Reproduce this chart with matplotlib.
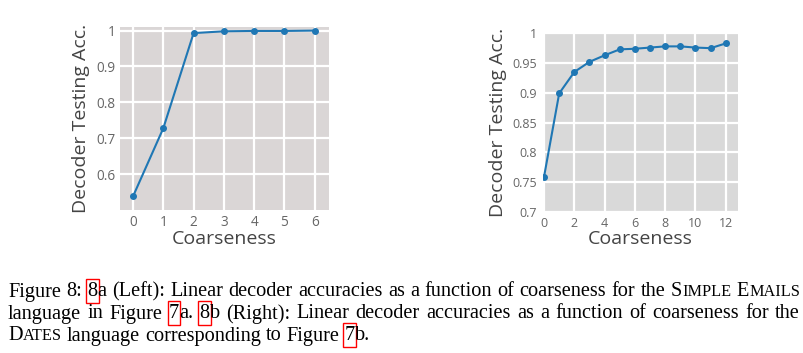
import matplotlib
matplotlib.use("Agg")
import matplotlib.pyplot as plt
from matplotlib.patches import Rectangle
import re

# ---- data ----
left_x = [0, 1, 2, 3, 4, 5, 6]
left_acc = [0.538, 0.728, 0.993, 0.998, 0.999, 0.999, 1.0]
left_yticks = [0.6, 0.7, 0.8, 0.9, 1.0]

right_x = [0, 1, 2, 3, 4, 5, 6, 7, 8, 9, 10, 11, 12]
right_acc = [0.759, 0.899, 0.935, 0.952, 0.963, 0.973, 0.974, 0.976, 0.978, 0.978, 0.976, 0.975, 0.983]
right_xticks = [0, 2, 4, 6, 8, 10, 12]
right_yticks = [0.7, 0.75, 0.8, 0.85, 0.9, 0.95, 1.0]

caption_lines = [
    "Figure 8: [8]a (Left): Linear decoder accuracies as a function of coarseness for the S{IMPLE} E{MAILS}",
    "language in Figure [7]a. [8]b (Right): Linear decoder accuracies as a function of coarseness for the",
    "D{ATES} language corresponding to Figure [7]b.",
]

W, H = 804, 353
LINE = "#1f77b4"
fig = plt.figure(figsize=(W / 100, H / 100), dpi=100)


def style_axes(ax, bg, xlim, ylim, xticks, yticks, tick_size, tick_pad):
    ax.set_facecolor(bg)
    for s in ax.spines.values():
        s.set_visible(False)
    ax.set_xlim(*xlim)
    ax.set_ylim(*ylim)
    ax.set_xticks(xticks)
    ax.set_yticks(yticks)
    ax.set_xticklabels([f"{v:g}" for v in xticks])
    ax.set_yticklabels([f"{v:g}" for v in yticks])
    ax.grid(True, color="white", linewidth=1.6)
    ax.set_axisbelow(True)
    ax.tick_params(length=0, labelsize=tick_size, labelcolor="#666666", pad=tick_pad)
    for lab in ax.get_xticklabels() + ax.get_yticklabels():
        lab.set_family("Open Sans")
    ax.set_xlabel("Coarseness", fontsize=14, color="#444444", family="Open Sans", labelpad=0)
    ax.set_ylabel("Decoder Testing Acc.", fontsize=14, color="#444444", family="Open Sans", labelpad=4)


ax1 = fig.add_axes([120 / W, 1 - 210 / H, 209 / W, 183 / H])
ax1.plot(left_x, left_acc, color=LINE, linewidth=1.5, marker="o", markersize=4)
style_axes(ax1, "#dad6d6", (-0.43, 6.47), (0.5, 1.01), left_x, left_yticks, 9.8, 3.5)

ax2 = fig.add_axes([542.7 / W, 1 - 211.7 / H, 195.6 / W, 178.4 / H])
ax2.plot(right_x, right_acc, color=LINE, linewidth=1.5, marker="o", markersize=4)
style_axes(ax2, "#d9d9d9", (-0.09, 12.83), (0.7, 1.0), right_xticks, right_yticks, 9, 4)


# ---- caption (Times-like, justified, small caps and boxed refs) ----
renderer = fig.canvas.get_renderer()
CAP = 14.6
SERIF = "Liberation Serif"


def parse_word(word):
    frags = []
    for m in re.finditer(r"\[([^\]]+)\]|\{([^}]+)\}|([^\[\{]+)", word):
        if m.group(1):
            frags.append((m.group(1), CAP, True))
        elif m.group(2):
            frags.append((m.group(2), CAP * 0.8, False))
        else:
            frags.append((m.group(3), CAP, False))
    return frags


def text_width(s, size):
    t = fig.text(0, 0, s, fontsize=size, family=SERIF)
    w = t.get_window_extent(renderer).width
    t.remove()
    return w


def draw_line(line, y_base, x0, x1, justify):
    words = [parse_word(w) for w in line.split(" ")]
    widths = [[text_width(s, sz) for s, sz, _ in wd] for wd in words]
    totals = [sum(ws) for ws in widths]
    space = CAP * 0.25 * 100 / 72
    if justify and len(words) > 1:
        space = (x1 - x0 - sum(totals)) / (len(words) - 1)
    x = x0
    for wd, ws in zip(words, widths):
        for (s, sz, boxed), w in zip(wd, ws):
            fig.text(x / W, 1 - y_base / H, s, fontsize=sz, family=SERIF,
                     va="baseline", ha="left", color="black")
            if boxed:
                fig.patches.append(Rectangle(((x - 1) / W, 1 - (y_base + 6) / H),
                                             (w + 2) / W, 24 / H, fill=False,
                                             edgecolor="red", linewidth=1.0,
                                             transform=fig.transFigure, figure=fig))
            x += w
        x += space


bases = [296.5, 318.5, 340.5]
for i, (line, yb) in enumerate(zip(caption_lines, bases)):
    draw_line(line, yb, 8, 800, justify=(i < len(caption_lines) - 1))

fig.savefig("out.png", dpi=100)
